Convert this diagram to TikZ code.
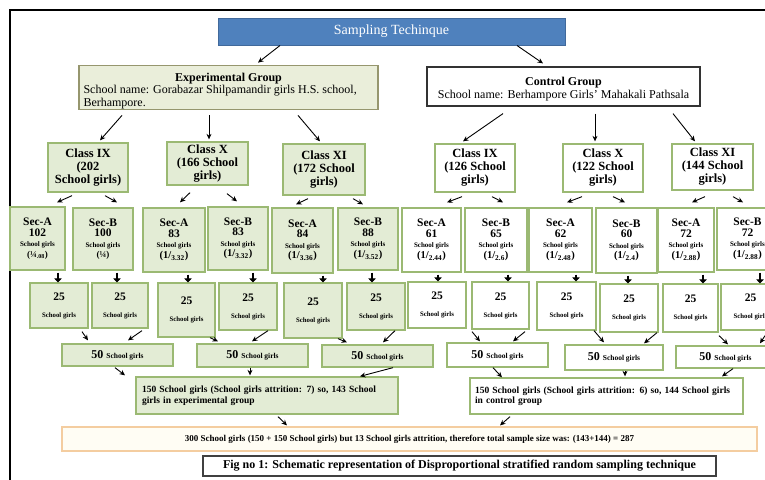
\documentclass[tikz,border=0pt]{standalone}
\usepackage{fontspec}
\setmainfont{Liberation Serif}
\usetikzlibrary{arrows.meta,calc}
\definecolor{gfill}{RGB}{227,236,213}
\definecolor{gline}{RGB}{155,185,115}
\definecolor{efill}{RGB}{234,238,218}
\definecolor{eline}{RGB}{150,150,110}
\definecolor{topfill}{RGB}{79,129,189}
\definecolor{topline}{RGB}{65,105,155}
\definecolor{totfill}{RGB}{255,253,244}
\definecolor{totline}{RGB}{244,205,160}
\tikzset{
  bx/.style={draw, rectangle, inner sep=1pt, align=center},
  gbox/.style={bx, fill=gfill, draw=gline, line width=1.3pt},
  wbox/.style={bx, fill=white, draw=gline, line width=1.3pt},
  clsf/.style={font=\fontsize{12.5}{13}\selectfont\bfseries},
  secf/.style={font=\fontsize{11.5}{10.5}\selectfont\bfseries},
  qf/.style={font=\fontsize{11.5}{12}\selectfont\bfseries},
  ff/.style={font=\fontsize{12}{13}\selectfont\bfseries},
  arr/.style={-{Stealth[length=5.5pt,width=5pt]}, line width=0.9pt},
  thk/.style={-{Triangle[length=4pt,width=7.5pt]}, line width=2.6pt},
}
\newcommand\mybox[7]{\node[#1, minimum width={(#5-#3)*1pt}, minimum height={(#6-#4)*1pt}] (#2) at ({(#3+#5)/2},{(#4+#6)/2}) {#7};}
\newcommand\myarr[6]{\draw[arr] ([xshift=#2pt,yshift=-#3pt]#1.south) -- ([xshift=#5pt,yshift=#6pt]#4.north);}
\newcommand\mythk[3]{\path ([xshift=#3pt]#2.north) coordinate (tkend); \draw[thk, shorten <=2pt] (tkend |- #1.south) -- (tkend);}
\newcommand\schg{{\fontsize{7}{8}\selectfont School girls}}
\newcommand\schq{{\fontsize{6.8}{8}\selectfont School girls}}
\newcommand\frc[1]{{\fontsize{10.5}{10.5}\selectfont(1/\textsubscript{#1})}}
\begin{document}
\begin{tikzpicture}[x=1pt,y=-1pt]
\useasboundingbox (0,0) rectangle (765,479);
\fill[white] (0,0) rectangle (765,479);
\clip (0,0) rectangle (765,479);
\draw[line width=1.6pt] (10,480) -- (10,10) -- (766,10);

% top
\mybox{bx, fill=topfill, draw=topline, line width=1pt, text=white, font=\fontsize{14}{16}\selectfont}{top}{218}{18}{565}{45}{Sampling Techinque}
\mybox{bx, fill=efill, draw=eline, line width=1.2pt, font=\fontsize{12}{12.5}\selectfont, align=left}{exp}{79}{67}{378}{108}{\rule{0pt}{15pt}\makebox[290pt]{\bfseries Experimental Group}\\School name: Gorabazar Shilpamandir girls H.S. school,\\Berhampore.}
\mybox{bx, draw=black!80, line width=1.2pt, font=\fontsize{12}{12.5}\selectfont}{ctl}{427}{67}{700}{106}{\rule{0pt}{14pt}\textbf{Control Group}\\School name: Berhampore Girls' Mahakali Pathsala}

% classes
\mybox{gbox,clsf}{cI}{48}{143}{128}{192}{Class IX\\(202\\School girls)}
\mybox{gbox,clsf}{cX}{167}{142}{248}{185}{Class X\\(166 School\\girls)}
\mybox{gbox,clsf}{cXI}{283}{144}{365}{195}{Class XI\\(172 School\\girls)}
\mybox{wbox,clsf}{dI}{435}{144}{515}{192}{Class IX\\(126 School\\girls)}
\mybox{wbox,clsf}{dX}{563}{144}{643}{192}{Class X\\(122 School\\girls)}
\mybox{wbox,clsf}{dXI}{672}{144}{753}{190}{Class XI\\(144 School\\girls)}

% sections
\mybox{gbox,secf}{s1}{10}{207}{65}{270}{Sec-A\\102\\\schg\\{\fontsize{9}{10}\selectfont(¼\textsubscript{.08})}}
\mybox{gbox,secf}{s2}{73}{208}{133}{270}{Sec-B\\100\\\schg\\{\fontsize{9}{10}\selectfont(¼)}}
\mybox{gbox,secf}{s3}{143}{208}{205}{272}{Sec-A\\83\\\schg\\\frc{3.32}}
\mybox{gbox,secf}{s4}{208}{207}{268}{270}{Sec-B\\83\\\schg\\\frc{3.32}}
\mybox{gbox,secf}{s5}{272}{208}{333}{273}{Sec-A\\84\\\schg\\\frc{3.36}}
\mybox{gbox,secf}{s6}{338}{208}{398}{270}{Sec-B\\88\\\schg\\\frc{3.52}}
\mybox{wbox,secf}{t1}{402}{208}{461}{272}{Sec-A\\61\\\schg\\\frc{2.44}}
\mybox{wbox,secf}{t2}{465}{208}{527}{272}{Sec-B\\65\\\schg\\\frc{2.6}}
\mybox{wbox,secf}{t3}{529}{208}{592}{272}{Sec-A\\62\\\schg\\\frc{2.48}}
\mybox{wbox,secf}{t4}{596}{208}{657}{273}{Sec-B\\60\\\schg\\\frc{2.4}}
\mybox{wbox,secf}{t5}{658}{208}{714}{272}{Sec-A\\72\\\schg\\\frc{2.88}}
\mybox{wbox,secf}{t6}{717}{208}{778}{270}{Sec-B\\72\\\schg\\\frc{2.88}}

% 25 boxes
\mybox{gbox,qf}{e1}{30}{283}{88}{328}{25\\[5pt]\schq}
\mybox{gbox,qf}{e2}{92}{283}{148}{328}{25\\[5pt]\schq}
\mybox{gbox,qf}{e3}{158}{283}{215}{337}{25\\[5pt]\schq}
\mybox{gbox,qf}{e4}{219}{283}{277}{330}{25\\[5pt]\schq}
\mybox{gbox,qf}{e5}{284}{283}{342}{338}{25\\[5pt]\schq}
\mybox{gbox,qf}{e6}{347}{283}{405}{330}{25\\[5pt]\schq}
\mybox{wbox,qf}{f1}{408}{282}{466}{328}{25\\[5pt]\schq}
\mybox{wbox,qf}{f2}{472}{282}{529}{329}{25\\[5pt]\schq}
\mybox{wbox,qf}{f3}{537}{282}{596}{330}{25\\[5pt]\schq}
\mybox{wbox,qf}{f4}{600}{284}{658}{332}{25\\[5pt]\schq}
\mybox{wbox,qf}{f5}{663}{284}{718}{332}{25\\[5pt]\schq}
\mybox{wbox,qf}{f6}{721}{284}{780}{330}{25\\[5pt]\schq}

% 50 boxes
\mybox{gbox,ff}{g1}{62}{344}{173}{366}{50 {\fontsize{7.5}{9}\selectfont School girls}}
\mybox{gbox,ff}{g2}{197}{344}{308}{367}{50 {\fontsize{7.5}{9}\selectfont School girls}}
\mybox{gbox,ff}{g3}{322}{345}{433}{367}{50 {\fontsize{7.5}{9}\selectfont School girls}}
\mybox{wbox,ff}{h1}{447}{343}{548}{367}{50 {\fontsize{7.5}{9}\selectfont School girls}}
\mybox{wbox,ff}{h2}{565}{345}{663}{370}{50 {\fontsize{7.5}{9}\selectfont School girls}}
\mybox{wbox,ff}{h3}{676}{346}{775}{368}{50 {\fontsize{7.5}{9}\selectfont School girls}}

% 150 boxes
\mybox{gbox, font=\fontsize{9.5}{10.5}\selectfont\bfseries, align=left, text width=250pt}{x150}{136}{377}{398}{414}{150 School girls (School girls attrition: 7) so, 143 School\\girls in experimental group}
\mybox{wbox, font=\fontsize{9.5}{10.5}\selectfont\bfseries, align=left, text width=263pt}{y150}{470}{378}{743}{414}{150 School girls (School girls attrition: 6) so, 144 School girls\\in control group}

% total and caption
\mybox{bx, fill=totfill, draw=totline, line width=1.2pt, font=\fontsize{9}{10}\selectfont\bfseries}{tot}{62}{427}{757}{451}{300 School girls (150 + 150 School girls) but 13 School girls attrition, therefore total sample size was: (143+144) = 287}
\mybox{bx, draw=black!75, line width=1.2pt, font=\fontsize{12}{13}\selectfont\bfseries}{cap}{203}{456}{716}{476}{Fig no 1: Schematic representation of Disproportional stratified random sampling technique}

% arrows top
\myarr{top}{-111.5}{0}{exp}{29.5}{2}
\myarr{top}{125.5}{0}{ctl}{-20.5}{3}
\myarr{exp}{-106.5}{5}{cI}{12}{2}
\myarr{exp}{-19.5}{5}{cX}{1.5}{2}
\myarr{exp}{69.5}{5}{cXI}{-4}{2}
\myarr{ctl}{-60.5}{7}{dI}{-12}{2}
\myarr{ctl}{31.5}{7}{dX}{-8}{2}
\myarr{ctl}{109.5}{7}{dXI}{-17.5}{2}
% class -> sec
\myarr{cI}{-16}{3}{s1}{19.5}{4}
\myarr{cI}{17}{3}{s2}{14}{5}
\myarr{cX}{-17.5}{7}{s3}{6}{5}
\myarr{cX}{19.5}{8}{s4}{-1}{5}
\myarr{cXI}{-16}{3}{s5}{-6.5}{3}
\myarr{cXI}{29}{3}{s6}{-5}{3}
\myarr{dI}{-13}{4}{t1}{15.5}{5}
\myarr{dI}{17}{4}{t2}{7}{5}
\myarr{dX}{-21}{4}{t3}{6.5}{5}
\myarr{dX}{10}{4}{t4}{-1.5}{5}
\myarr{dXI}{-7.5}{6}{t5}{6}{5}
\myarr{dXI}{20.5}{6}{t6}{-4.5}{5}
% sec -> 25
\mythk{s1}{e1}{-1}
\mythk{s2}{e2}{-3}
\mythk{s3}{e3}{1.5}
\mythk{s4}{e4}{5}
\mythk{s5}{e5}{10}
\mythk{s6}{e6}{-4}
\mythk{t1}{f1}{1}
\mythk{t2}{f2}{7.5}
\mythk{t3}{f3}{9.5}
\mythk{t4}{f4}{-1}
\mythk{t5}{f5}{12.5}
\mythk{t6}{f6}{9.5}
% 25 -> 50
\myarr{e1}{23}{3}{g1}{-29.5}{3}
\myarr{e2}{22}{2}{g1}{10.5}{3}
\myarr{e3}{23.5}{0}{g2}{-34.5}{2}
\myarr{e4}{20}{0}{g2}{-0.5}{2}
\myarr{e5}{25}{0}{g3}{-30.5}{2}
\myarr{e6}{19}{0}{g3}{5.5}{2}
\myarr{f1}{35}{3}{h1}{-17.5}{1}
\myarr{f2}{24.5}{2}{h1}{15.5}{1}
\myarr{f3}{27.5}{0}{h2}{-10}{2}
\myarr{f4}{28}{0}{h2}{30}{1}
\myarr{f5}{28.5}{3}{h3}{2.5}{1}
\myarr{f6}{14.5}{5}{h3}{34.5}{2}
% 50 -> 150
\myarr{g1}{-2.5}{1}{x150}{-142}{1}
\myarr{g2}{-2.5}{0}{x150}{-17}{1}
\myarr{g3}{15.5}{0}{x150}{93}{0}
\myarr{h1}{-4.5}{0}{y150}{-104.5}{0}
\myarr{h2}{11}{0}{y150}{18.5}{1}
\myarr{h3}{7.5}{0}{y150}{115.5}{1}
% 150 -> total
\myarr{x150}{11}{2}{tot}{-122.5}{1}
\myarr{y150}{-96.5}{2}{tot}{90.5}{1}
\end{tikzpicture}
\end{document}
